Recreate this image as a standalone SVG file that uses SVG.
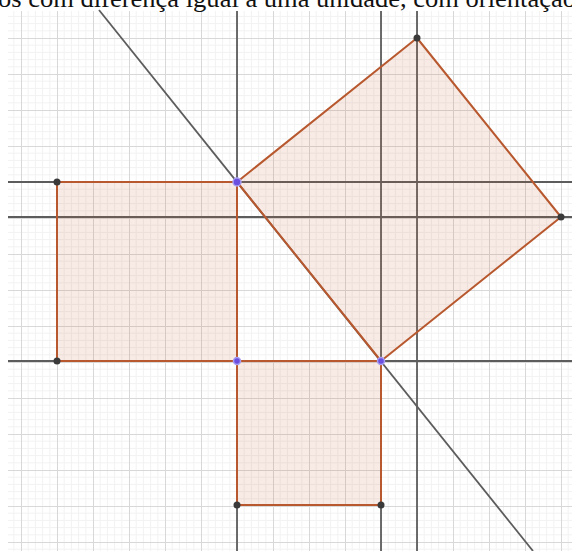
<svg xmlns="http://www.w3.org/2000/svg" width="572" height="551" viewBox="0 0 572 551">
<style>
.minor{stroke:#f2f2f2;stroke-width:1;fill:none}
.major{stroke:#d8d8d8;stroke-width:1;fill:none}
.line{stroke:#5c5c5c;stroke-width:1.8;fill:none}
.poly{fill:#cc6633;fill-opacity:0.13;stroke:#b8582e;stroke-width:2;stroke-linejoin:round}
.pt{fill:#3a3a3a}
.pv{fill:#6a4fe0;stroke:#a99ff2;stroke-width:1.5}
.title{font-family:"Liberation Serif","Times New Roman",serif;font-size:25px;fill:#111}
</style>
<defs>
<pattern id="grid" patternUnits="userSpaceOnUse" x="21" y="38" width="36" height="36">
<path class="minor" d="M7.2 0V36M14.4 0V36M21.6 0V36M28.8 0V36M0 7.2H36M0 14.4H36M0 21.6H36M0 28.8H36"/>
<path class="major" d="M0.5 0V36M0 0.5H36"/>
</pattern>
</defs>
<rect width="572" height="551" fill="#fff"/>
<rect x="8" y="11" width="564" height="540" fill="url(#grid)"/>
<text class="title" x="-2" y="7" textLength="578" lengthAdjust="spacingAndGlyphs">os com diferença igual a uma unidade, com orientação</text>
<g id="connectors">
<line class="line" x1="237" y1="11" x2="237" y2="551"/>
<line class="line" x1="381" y1="11" x2="381" y2="551"/>
<line class="line" x1="417" y1="11" x2="417" y2="551"/>
<line class="line" x1="8" y1="182" x2="572" y2="182"/>
<line class="line" x1="8" y1="217" x2="572" y2="217"/>
<line class="line" x1="8" y1="361" x2="572" y2="361"/>
<line class="line" x1="99" y1="10" x2="533" y2="551"/>
</g>
<g id="square-left"><polygon class="poly" points="57,182 237,182 237,361 57,361"/></g>
<g id="square-bottom"><polygon class="poly" points="237,361 381,361 381,505 237,505"/></g>
<g id="square-tilted"><polygon class="poly" points="237,182 417,38 561,217 381,361"/></g>
<g id="points">
<circle class="pt" cx="57" cy="182" r="3.5"/>
<circle class="pt" cx="57" cy="361" r="3.5"/>
<circle class="pt" cx="417" cy="38" r="3.5"/>
<circle class="pt" cx="561" cy="217" r="3.5"/>
<circle class="pt" cx="237" cy="505" r="3.5"/>
<circle class="pt" cx="381" cy="505" r="3.5"/>
<circle class="pv" cx="237" cy="182" r="4"/>
<circle class="pv" cx="237" cy="361" r="3.5"/>
<circle class="pv" cx="381" cy="361" r="3.5"/>
</g>
</svg>
